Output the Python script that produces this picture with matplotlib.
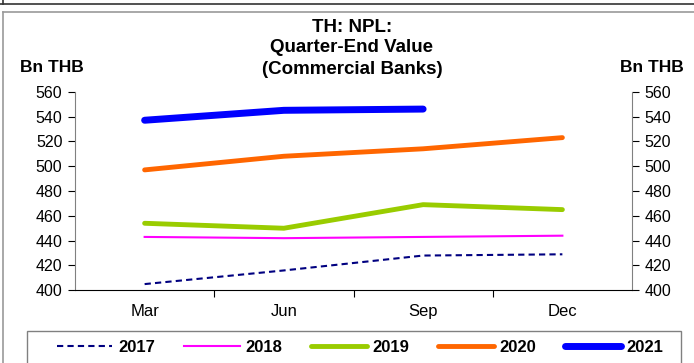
import matplotlib.pyplot as plt
from matplotlib.lines import Line2D
from matplotlib.patches import Rectangle

plt.rcParams['font.family'] = ['Liberation Sans', 'DejaVu Sans']

# Quarter-end NPL values, Bn THB
quarters = ['Mar', 'Jun', 'Sep', 'Dec']
npl_2017 = [405, 416, 428, 429]
npl_2018 = [443, 442, 443, 444]
npl_2019 = [454, 450, 469, 465]
npl_2020 = [497, 508, 514, 523]
npl_2021 = [537, 545, 546]
y_ticks = [400, 420, 440, 460, 480, 500, 520, 540, 560]

W, H = 694, 363
fig = plt.figure(figsize=(6.94, 3.63), dpi=100)
ax = fig.add_axes([75 / W, 1 - 290.3 / H, 557 / W, 198.6 / H])

ax.plot(range(4), npl_2017, color='#000080', lw=1.5, ls=(0, (3, 2)), label='2017')
ax.plot(range(4), npl_2018, color='#FF00FF', lw=1.5, label='2018')
ax.plot(range(4), npl_2019, color='#99CC00', lw=3.5, solid_capstyle='round', label='2019')
ax.plot(range(4), npl_2020, color='#FF6600', lw=3.5, solid_capstyle='round', label='2020')
ax.plot(range(3), npl_2021, color='#0000FF', lw=5, solid_capstyle='round', label='2021')

ax.set_xlim(-0.5, 3.5)
ax.set_ylim(400, 560)
ax.set_yticks(y_ticks)
ax.set_xticks(range(4))
ax.set_xticklabels(quarters, fontsize=12)
ax.set_xticks([0.5, 1.5, 2.5], minor=True)
ax.tick_params(axis='x', which='major', length=0, pad=10)
ax.tick_params(axis='x', which='minor', length=5, direction='out', width=0.8)
ax.tick_params(axis='y', which='major', length=5, direction='out', width=0.8, pad=4,
               labelsize=11.5, left=True, right=True, labelleft=True, labelright=True)
ax.spines['top'].set_visible(False)
for s in ['left', 'right']:
    ax.spines[s].set_color('#808080')
    ax.spines[s].set_linewidth(0.8)
ax.spines['bottom'].set_linewidth(0.8)

title_lines = ['TH: NPL:', 'Quarter-End Value', '(Commercial Banks)']
for y, line in zip([27, 48, 70], title_lines):
    fig.text(352 / W, 1 - y / H, line, ha='center', va='center', fontsize=13.5, fontweight='bold')
fig.text(52 / W, 1 - 67 / H, 'Bn THB', ha='center', va='center', fontsize=12.5, fontweight='bold')
fig.text(652 / W, 1 - 67 / H, 'Bn THB', ha='center', va='center', fontsize=12.5, fontweight='bold')

leg = fig.legend(loc='center', bbox_to_anchor=(360 / W, 1 - 347 / H), ncol=5,
                 prop={'weight': 'bold', 'size': 12}, handlelength=3.35, handletextpad=0.36,
                 columnspacing=1.7, frameon=False, borderpad=0)
fig.add_artist(Rectangle((27 / W, -0.05), 654 / W, 1 - 331 / H + 0.05, transform=fig.transFigure,
                         fill=False, edgecolor='#808080', lw=1.0))

# outer frame lines
fig.add_artist(Line2D([0, 1], [1 - 4 / H, 1 - 4 / H], color='#333333', lw=1.2))
fig.add_artist(Line2D([3 / W, 3 / W], [1, 1 - 4 / H], color='#333333', lw=1.2))
fig.add_artist(Line2D([3 / W, 1], [1 - 12 / H, 1 - 12 / H], color='#999999', lw=1.2))
fig.add_artist(Line2D([3 / W, 3 / W], [0, 1 - 12 / H], color='#999999', lw=1.2))

fig.savefig('out.png', dpi=100)
